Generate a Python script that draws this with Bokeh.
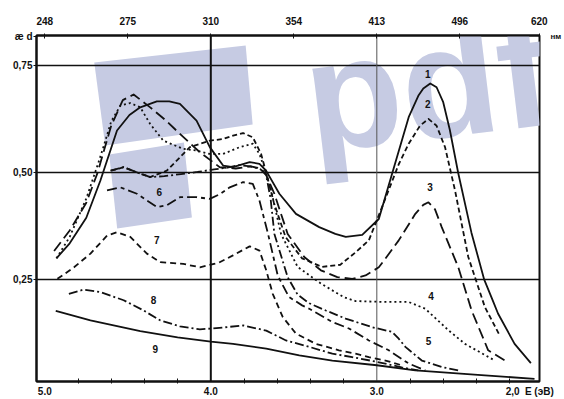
from bokeh.plotting import figure
from bokeh.models import Range1d, LinearAxis, FixedTicker, Span, Label, PolyAnnotation
from bokeh.core.properties import value
from bokeh.embed import file_html
from bokeh.resources import INLINE

# ---------------- data ----------------
# curve 1 (solid)
c1_E = [4.93, 4.85, 4.75, 4.665, 4.565, 4.49, 4.425, 4.325, 4.25, 4.186, 4.086, 4.006, 3.926, 3.866,
        3.766, 3.707, 3.667, 3.587, 3.487, 3.347, 3.25, 3.187, 3.088, 2.988, 2.908, 2.808, 2.75,
        2.72, 2.678, 2.64, 2.60, 2.56, 2.51, 2.43, 2.353, 2.30, 2.27, 2.17, 2.072]
c1_V = [0.300, 0.335, 0.395, 0.482, 0.599, 0.635, 0.653, 0.667, 0.667, 0.661, 0.622, 0.560, 0.517, 0.513,
        0.525, 0.521, 0.505, 0.451, 0.404, 0.373, 0.357, 0.350, 0.355, 0.392, 0.498, 0.630, 0.680,
        0.697, 0.709, 0.700, 0.665, 0.600, 0.500, 0.360, 0.250, 0.200, 0.171, 0.100, 0.055]
# curve 2 (short dash)
c2_E = [4.60, 4.525, 4.425, 4.365, 4.265, 4.186, 4.126, 4.006, 3.926, 3.866, 3.806, 3.747, 3.697,
        3.667, 3.62, 3.55, 3.45, 3.33, 3.22, 3.128, 3.048, 2.948, 2.868, 2.808, 2.74, 2.689, 2.64,
        2.589, 2.529, 2.449, 2.349, 2.26]
c2_V = [0.505, 0.513, 0.498, 0.490, 0.505, 0.536, 0.560, 0.575, 0.579, 0.587, 0.593, 0.583, 0.544,
        0.501, 0.430, 0.350, 0.300, 0.280, 0.285, 0.314, 0.342, 0.440, 0.520, 0.568, 0.610, 0.626, 0.610,
        0.560, 0.459, 0.303, 0.186, 0.120]
# curve 3 (long dash)
c3_E = [4.944, 4.85, 4.75, 4.684, 4.60, 4.53, 4.465, 4.365, 4.27, 4.186, 4.066, 3.946, 3.85, 3.76,
        3.697, 3.667, 3.617, 3.537, 3.437, 3.337, 3.238, 3.148, 3.068, 2.988, 2.928, 2.868, 2.768,
        2.72, 2.689, 2.65, 2.609, 2.509, 2.429, 2.329, 2.229]
c3_V = [0.317, 0.365, 0.430, 0.498, 0.610, 0.670, 0.683, 0.653, 0.622, 0.591, 0.548, 0.513, 0.510, 0.515,
        0.510, 0.495, 0.451, 0.357, 0.303, 0.272, 0.256, 0.252, 0.260, 0.279, 0.310, 0.342, 0.404,
        0.425, 0.431, 0.415, 0.373, 0.279, 0.178, 0.085, 0.061]
# curve 4 (dotted)
c4_E = [4.93, 4.85, 4.75, 4.68, 4.647, 4.60, 4.545, 4.485, 4.425, 4.365, 4.286, 4.166, 4.086, 4.006,
        3.926, 3.826, 3.747, 3.707, 3.666, 3.637, 3.577, 3.477, 3.337, 3.198, 3.128, 2.948, 2.808,
        2.708, 2.569, 2.469, 2.289]
c4_V = [0.300, 0.350, 0.440, 0.520, 0.560, 0.620, 0.657, 0.663, 0.653, 0.614, 0.575, 0.556, 0.552, 0.544,
        0.544, 0.560, 0.568, 0.544, 0.498, 0.459, 0.357, 0.280, 0.241, 0.209, 0.200, 0.198, 0.198,
        0.182, 0.132, 0.100, 0.061]
# curve 5 (dash-dot)
c5_E = [4.605, 4.525, 4.425, 4.365, 4.28, 4.18, 4.08, 3.98, 3.90, 3.83, 3.76, 3.70, 3.667, 3.64,
        3.617, 3.537, 3.477, 3.407, 3.307, 3.188, 3.028, 2.908, 2.868, 2.828, 2.729, 2.609, 2.509]
c5_V = [0.505, 0.513, 0.498, 0.490, 0.492, 0.497, 0.502, 0.508, 0.512, 0.518, 0.515, 0.508, 0.495, 0.440,
        0.357, 0.256, 0.215, 0.195, 0.178, 0.159, 0.139, 0.128, 0.112, 0.093, 0.061, 0.046, 0.038]
# curve 6 (long dash - short dash)
c6_E = [4.625, 4.545, 4.445, 4.385, 4.325, 4.265, 4.186, 4.086, 4.006, 3.946, 3.886, 3.806, 3.747,
        3.707, 3.657, 3.597, 3.53, 3.45, 3.407, 3.268, 3.168, 3.048, 2.928, 2.808, 2.708]
c6_V = [0.459, 0.466, 0.451, 0.435, 0.420, 0.424, 0.443, 0.443, 0.439, 0.450, 0.466, 0.478, 0.474,
        0.435, 0.360, 0.260, 0.210, 0.190, 0.182, 0.151, 0.136, 0.108, 0.085, 0.054, 0.038]
# curve 7 (dashed)
c7_E = [4.924, 4.824, 4.725, 4.625, 4.565, 4.485, 4.385, 4.305, 4.166, 4.066, 3.95, 3.866, 3.766,
        3.707, 3.666, 3.627, 3.567, 3.487, 3.367, 3.228, 3.128, 3.048, 2.948, 2.85]
c7_V = [0.252, 0.279, 0.311, 0.353, 0.361, 0.350, 0.311, 0.291, 0.287, 0.279, 0.290, 0.307, 0.328,
        0.318, 0.272, 0.217, 0.163, 0.124, 0.100, 0.085, 0.077, 0.069, 0.061, 0.050]
# curve 8 (dash-dot)
c8_E = [4.855, 4.765, 4.665, 4.525, 4.405, 4.305, 4.186, 4.066, 3.986, 3.806, 3.666, 3.547, 3.407,
        3.268, 3.148, 3.00, 2.85, 2.75]
c8_V = [0.217, 0.227, 0.221, 0.202, 0.178, 0.155, 0.141, 0.134, 0.136, 0.143, 0.131, 0.108, 0.093,
        0.077, 0.069, 0.058, 0.045, 0.038]
# curve 9 (solid, lowest)
c9_E = [4.934, 4.725, 4.425, 4.20, 4.00, 3.866, 3.666, 3.467, 3.268, 3.00, 2.768, 2.37, 2.05]
c9_V = [0.177, 0.155, 0.130, 0.115, 0.105, 0.100, 0.089, 0.073, 0.061, 0.050, 0.038, 0.027, 0.018]

curve_E = [c1_E, c2_E, c3_E, c4_E, c5_E, c6_E, c7_E, c8_E, c9_E]
curve_V = [c1_V, c2_V, c3_V, c4_V, c5_V, c6_V, c7_V, c8_V, c9_V]

# curve number labels
label_E = [2.693, 2.693, 2.680, 2.674, 2.689, 4.310, 4.325, 4.345, 4.335]
label_V = [0.731, 0.661, 0.466, 0.213, 0.107, 0.455, 0.343, 0.203, 0.087]
label_txt = ["1", "2", "3", "4", "5", "6", "7", "8", "9"]

# axes (the source prints "2,0" and the unit a little left of E = 2.0)
eV_ticks = [5.0, 4.0, 3.0, 2.182, 2.021]
eV_labels = ["5.0", "4.0", "3.0", "2,0", "E (эВ)"]
eV_minor = [4.8, 4.6, 4.4, 4.2, 3.8, 3.6, 3.4, 3.2, 2.8, 2.6, 2.4, 2.2]
nm_ticks_eV = [5.0, 4.5, 4.0, 3.5, 3.0, 2.5, 2.021]
nm_labels = ["248", "275", "310", "354", "413", "496", "620"]
ad_ticks = [0.25, 0.5, 0.75]
ad_labels = ["0,25", "0,50", "0,75"]
ad_title_at = 0.8195          # the "æ d" quantity label sits at the top of the axis
nm_unit_at = 0.8195           # the "нм" unit sits at the top right

# ---------------- styling ----------------
FONT = "Liberation Sans Narrow, Liberation Sans, sans-serif"
INK = "#111111"
WATERMARK = "#c6cbe3"
dashes = ["solid", "5 3", "11 5", "2 3", "9 3 2 3", "10 4 4 4", "6 4", "9 3 2 3", "solid"]

X0, X1 = 5.05, 2.02
Y0, Y1 = 0.012, 0.821
FL, FT, FW, FH = 36, 35, 505, 346   # frame in canvas pixels


def px_x(px):
    return X0 + (px - FL) / FW * (X1 - X0)


def px_y(py):
    return Y1 - (py - FT) / FH * (Y1 - Y0)


p = figure(width=564, height=399, x_range=Range1d(X0, X1), y_range=Range1d(Y0, Y1),
           output_backend="svg", toolbar_location=None,
           min_border_left=36, min_border_right=23, min_border_top=35, min_border_bottom=18,
           background_fill_color="white", border_fill_color="white")
p.outline_line_color = INK
p.outline_line_width = 2

# watermark (decorative, as in the scanned source)
for poly in ([(94, 62), (246, 45), (253, 124), (105, 145)],
             [(109, 154), (184, 142), (192, 217), (117, 228)]):
    p.add_layout(PolyAnnotation(xs=[px_x(a) for a, b in poly], ys=[px_y(b) for a, b in poly],
                                fill_color=WATERMARK, fill_alpha=1.0, line_color=None, level="image"))
p.add_layout(Label(x=px_x(306), y=px_y(98), text="pdf", text_font="Liberation Sans",
                   text_font_style="bold", text_font_size="158px", text_color=WATERMARK,
                   angle=0.12, text_align="left", text_baseline="middle", level="image"))

# bottom axis (E, eV)
xa = p.xaxis[0]
xa.ticker = FixedTicker(ticks=eV_ticks, minor_ticks=eV_minor)
xa.major_label_overrides = dict(zip(eV_ticks, eV_labels))
xa.major_tick_in, xa.major_tick_out = 0, 0
xa.minor_tick_in, xa.minor_tick_out = 3, 2
xa.axis_line_width = 2
xa.axis_line_color = INK
xa.minor_tick_line_color = INK
xa.major_label_standoff = 2

# left axis (with the "æ d" quantity at its top)
ya = p.yaxis[0]
ya.ticker = FixedTicker(ticks=ad_ticks + [ad_title_at], minor_ticks=[])
ya.major_label_overrides = dict(zip(ad_ticks + [ad_title_at], ad_labels + ["æ d"]))
ya.major_tick_in, ya.major_tick_out = 0, 3
ya.minor_tick_in, ya.minor_tick_out = 0, 0
ya.axis_line_width = 2
ya.axis_line_color = INK
ya.major_tick_line_color = INK
ya.major_label_standoff = 1

# top axis (nm)
ta = LinearAxis(ticker=FixedTicker(ticks=nm_ticks_eV, minor_ticks=[]),
                major_label_overrides=dict(zip(nm_ticks_eV, nm_labels)))
ta.major_tick_in, ta.major_tick_out = 3, 2
ta.minor_tick_in, ta.minor_tick_out = 0, 0
ta.axis_line_width = 2
ta.axis_line_color = INK
ta.major_tick_line_color = INK
ta.major_label_standoff = 9
p.add_layout(ta, "above")

for ax in (xa, ya, ta):
    ax.major_label_text_font = FONT
    ax.major_label_text_font_style = "bold"
    ax.major_label_text_font_size = "10px"
    ax.major_label_text_color = INK

# right axis carrying only the "нм" unit of the top scale
ra = LinearAxis(ticker=FixedTicker(ticks=[nm_unit_at], minor_ticks=[]),
                major_label_overrides={nm_unit_at: "нм"})
ra.axis_line_color = None
ra.major_tick_line_color = None
ra.major_tick_in, ra.major_tick_out = 0, 0
ra.minor_tick_in, ra.minor_tick_out = 0, 0
ra.major_label_standoff = 11
ra.major_label_text_font = FONT
ra.major_label_text_font_style = "bold"
ra.major_label_text_font_size = "8px"
ra.major_label_text_color = INK
p.add_layout(ra, "right")

# grid
p.xgrid.visible = False
p.ygrid.ticker = FixedTicker(ticks=ad_ticks, minor_ticks=[])
p.ygrid.grid_line_color = INK
p.ygrid.grid_line_width = 1.6
p.ygrid.grid_line_alpha = 1.0
p.add_layout(Span(location=4.0, dimension="height", line_color=INK, line_width=2, level="underlay"))
p.add_layout(Span(location=3.0, dimension="height", line_color="#555555", line_width=1, level="underlay"))

# curves
for E, V, d in zip(curve_E, curve_V, dashes):
    p.line(E, V, line_color=INK, line_width=1.8, line_dash=d, line_join="round")

p.text(x=label_E, y=label_V, text=label_txt, text_font=value(FONT), text_font_style="bold",
       text_font_size="10px", text_color=INK, text_align="center", text_baseline="middle")

open("out.html", "w").write(file_html(p, INLINE))
